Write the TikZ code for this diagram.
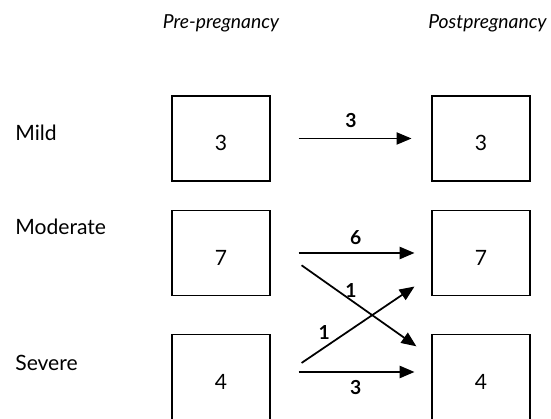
\documentclass[tikz,border=0pt]{standalone}
\usepackage{fontspec}
\setmainfont{Lato}
\usetikzlibrary{calc,positioning,arrows.meta}
\tikzstyle{CountBox} = [rectangle, draw, line width=0.6pt, text height=14pt, text depth=0pt,
    minimum width=1.96cm, minimum height=1.7cm, font=\fontsize{12}{14}\selectfont]
\tikzstyle{RowLabel} = [right, inner sep=0pt, font=\fontsize{12}{14}\selectfont]
\tikzstyle{Header} = [inner sep=0pt, font=\fontsize{11}{13}\selectfont\itshape]
\tikzstyle{CountLabel} = [inner sep=1pt, font=\fontsize{11}{13}\selectfont\bfseries]
\tikzstyle{arrow} = [line width=1pt, -{Triangle[length=8.5pt,width=7pt]},
    shorten <=0.56cm, shorten >=0.34cm]

\begin{document}
\begin{tikzpicture}[]
        \useasboundingbox (0,0) rectangle (11.02, 8.38);
        \node[Header] (PreHead) at (4.42, 7.92) {Pre-pregnancy};
        \node[Header] (PostHead) at (9.75, 7.92) {Postpregnancy};
        \node[RowLabel] (MildLabel) at (0.30, 5.72) {Mild};
        \node[RowLabel] (ModLabel) at (0.30, 3.84) {Moderate};
        \node[RowLabel] (SevLabel) at (0.30, 1.12) {Severe};
        \node[CountBox] (Pre1) at (4.42, 5.61) {3}; %mild before
        \node[CountBox] (Pre2) at (4.42, 3.32) {7}; %moderate before
        \node[CountBox] (Pre3) at (4.42, 0.84) {4}; %severe before
        \node[CountBox] (Post1) at (9.62, 5.61) {3}; %mild after
        \node[CountBox] (Post2) at (9.62, 3.32) {7}; %moderate after
        \node[CountBox] (Post3) at (9.62, 0.84) {4}; %severe after
        \draw[arrow, line width=0.6pt, shorten >=0.4cm] (Pre1.east) -- (Post1.west)
            node[CountLabel, pos=0.5, above=5pt] {3};
        \draw[arrow] (Pre2.east) -- (Post2.west)
            node[CountLabel, pos=0.53, above=3pt] {6};
        \draw[arrow] ([yshift=0.1cm]Pre3.east) -- ([yshift=0.1cm]Post3.west)
            node[CountLabel, pos=0.53, below=3pt] {3};
        \draw[arrow, shorten <=0.76cm, shorten >=0.37cm] (Pre2.11.5) -- (Post3.158.5)
            node[CountLabel, pos=0.5, above] {1}; %moderate to severe
        \draw[arrow, shorten <=0.75cm, shorten >=0.41cm] (Pre3.-8) -- (Post2.204.8)
            node[CountLabel, pos=0.385, above left] {1}; %severe to moderate
    \end{tikzpicture}
\end{document}
